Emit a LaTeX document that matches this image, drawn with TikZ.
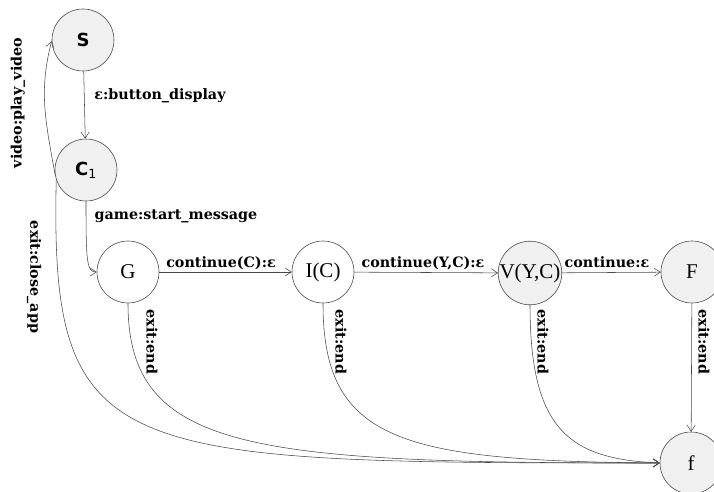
\documentclass[tikz,border=0pt]{standalone}
\usepackage{fontspec}
\setmainfont{Liberation Serif}
\newfontfamily\labfont{DejaVu Serif}
\newfontfamily\sansb{DejaVu Sans}
\usetikzlibrary{arrows.meta}
\definecolor{edgecol}{HTML}{484848}
\definecolor{statefill}{HTML}{F0F0F0}
\tikzset{
  state/.style={circle, draw=edgecol, line width=0.6pt, minimum size=62pt, inner sep=0pt, font=\fontsize{21}{23}\selectfont},
  grey/.style={state, fill=statefill},
  startst/.style={grey, font=\sansb\bfseries\fontsize{18}{20}\selectfont},
  edge/.style={draw=edgecol, line width=0.55pt, -{Straight Barb[length=6pt,width=8pt]}},
  lab/.style={font=\labfont\bfseries\fontsize{14.3}{16}\selectfont, inner sep=0pt, text=black},
}
\begin{document}
\begin{tikzpicture}[x=1pt,y=1pt]
\useasboundingbox (0,0) rectangle (714,491);
\node[startst] (S) at (83,451) {S};
\node[startst] (C1) at (86,321) {C\textsubscript{\mdseries 1}};
\node[state] (G) at (128,219) {G};
\node[state] (I) at (323,219) {I(C)};
\node[grey] (V) at (530,218) {V(Y,C)};
\node[grey] (F) at (692,219) {F};
\node[grey] (f) at (691,28) {f};

\draw[edge] (S) -- (C1);
\draw[edge] (C1.188) to[out=100,in=-105] (S.182);
\draw[edge] (C1.south) .. controls +(0,-60) and +(-10,0) .. (G.west);
\draw[edge] (C1.198) .. controls (50,30) and (110,28) .. (f.west);
\draw[edge] (G) -- (I);
\draw[edge] (I) -- (V);
\draw[edge] (V) -- (F);
\draw[edge] (G.south) .. controls (128,40) and (250,28) .. (f.west);
\draw[edge] (I.south) .. controls (323,50) and (400,30) .. (f.west);
\draw[edge] (V.south) .. controls (530,60) and (570,32) .. (f.west);
\draw[edge] (F) -- (f);

\node[lab] (l1) at (160,395) {ε:button\_display};
\node[lab] (l2) at (176,275) {game:start\_message};
\node[lab] (l3) at (221,228) {continue(C):ε};
\node[lab] (l4) at (423,228) {continue(Y,C):ε};
\node[lab] (l5) at (607,229) {continue:ε};
\node[lab, rotate=90] (l6) at (18,388) {video:play\_video};
\node[lab, rotate=-90] (l7) at (34,214) {exit:close\_app};
\node[lab, rotate=-90] (l8) at (152,149) {exit:end};
\node[lab, rotate=-90] (l9) at (341,149) {exit:end};
\node[lab, rotate=-90] (l10) at (543,149) {exit:end};
\node[lab, rotate=-90] (l11) at (704,149) {exit:end};
\end{tikzpicture}
\end{document}
